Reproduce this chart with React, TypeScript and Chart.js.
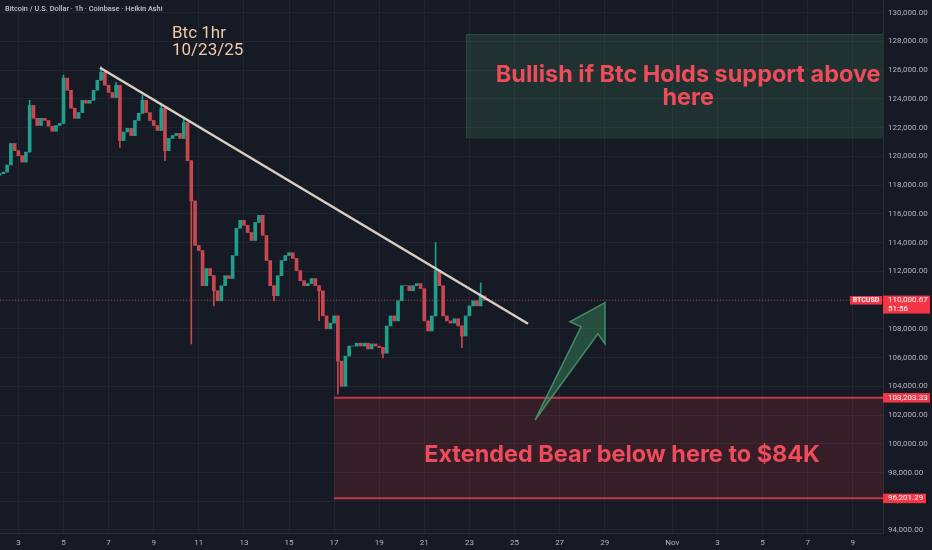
import React, { useEffect, useRef } from "react";
import { Chart, registerables } from "chart.js";
Chart.register(...registerables);

// ---------------- DATA ----------------
// time unit: day of October (Oct d 00:00 = d; Nov 1 = 32)
const START_DAY = 2 + 4 / 24; // Oct 2, 04:00
const STEP_DAYS = 4 / 24; // 4h Heikin Ashi candles
const FIRST_OPEN = 118700;
const closes = [
  118800, 118900, 119400, 120900, 120400, 120050, 119600, 120300, 123550, 122650,
  122150, 122650, 122500, 122100, 121750, 122150, 122300, 125450, 124600, 123350,
  122650, 123050, 123900, 123700, 123900, 124600, 125300, 125850, 124950, 124450,
  124100, 124950, 121100, 121700, 121950, 121450, 122500, 123000, 123900, 123050,
  122500, 122150, 121800, 123350, 120400, 121250, 121450, 121600, 121250, 122350,
  119700, 116900, 113800, 113450, 111000, 112200, 111700, 110650, 109950, 111000,
  111700, 111500, 113100, 115000, 115550, 115200, 114700, 114150, 115400, 115900,
  114500, 112750, 111000, 110300, 111700, 112750, 113100, 113300, 112900, 112050,
  111350, 111000, 111150, 111500, 111000, 110650, 108900, 108000, 108400, 108900,
  105750, 104000, 106100, 106800, 106800, 107000, 106800, 107000, 106600, 106950,
  106800, 106700, 106300, 108200, 108900, 108550, 109950, 111000, 111000, 110650,
  111000, 111150, 110800, 108550, 107850, 108900, 112050, 111000, 108900, 108550,
  108400, 108700, 108200, 107500, 108900, 109600, 109950, 109600, 110300, 110000,
];
const wickHighIdx = [8, 17, 27, 31, 38, 43, 49, 116, 128];
const wickHighVal = [123900, 125650, 126250, 125150, 124260, 123700, 122650, 114000, 111200];
const wickLowIdx = [32, 44, 51, 57, 73, 85, 90, 102, 123];
const wickLowVal = [120630, 119700, 106950, 109600, 109950, 108560, 103450, 105980, 106680];

const xTickVals = [3, 5, 7, 9, 11, 13, 15, 17, 19, 21, 23, 25, 27, 29, 32, 34, 36, 38, 40];
const xTickLabels = ["3", "5", "7", "9", "11", "13", "15", "17", "19", "21", "23", "25", "27", "29", "Nov", "3", "5", "7", "9"];
const yTickVals = [94000, 96000, 98000, 100000, 102000, 104000, 106000, 108000, 110000, 112000,
  114000, 116000, 118000, 120000, 122000, 124000, 126000, 128000, 130000];

const LAST_PRICE = 110000.67;
const COUNTDOWN = "51:56";
const SUPPORT_TOP = 103203.33;
const SUPPORT_BOTTOM = 96201.29;
const trendX = [6.62, 25.6];
const trendY = [126170, 108350];

// annotations (data space)
const GREEN_BOX = { x0: 22.85, y0: 121330, y1: 128510 };
const RED_BOX = { x0: 17.0 };
const arrowX = [25.91, 27.95, 27.46, 29.01, 29.01, 28.70];
const arrowY = [101650, 108140, 108490, 109820, 106955, 107650];
const GREEN_TEXT = { x: 32.7, y1: 125650, y2: 124050, l1: "Bullish if Btc Holds support above", l2: "here" };
const RED_TEXT = { x: 29.77, y: 99210, t: "Extended Bear below here to $84K" };
const NOTE = { x: 9.81, y1: 128510, y2: 127330, l1: "Btc 1hr", l2: "10/23/25" };
const TITLE = "Bitcoin / U.S. Dollar · 1h · Coinbase · Heikin Ashi";

const X_MIN = 2.184;
const X_MAX = 41.34;
const Y_MIN = 93790;
const Y_MAX = 130885;

// ---------------- STYLE ----------------
const BG = "#161a25";
const GRID = "#212532";
const AXIS_TXT = "#b2b5be";
const UP = "#1f9e89";
const DOWN = "#c9474f";
const RED = "#f23645";
const TICK_FONT = { family: "Roboto, 'Liberation Sans', sans-serif", size: 8 };

const fmt = (v: number) => v.toLocaleString("en-US", { minimumFractionDigits: 2, maximumFractionDigits: 2 });

export default function App() {
  const ref = useRef<HTMLCanvasElement | null>(null);

  useEffect(() => {
    if (!ref.current) return;
    const opens = closes.map((c, i) => (i === 0 ? FIRST_OPEN : closes[i - 1]));
    const times = closes.map((_, i) => START_DAY + i * STEP_DAYS);
    const bodies = closes.map((c, i) => ({ x: times[i], y: [opens[i], c] }));
    const bodyColors = closes.map((c, i) => (c >= opens[i] ? UP : DOWN));

    const wickMap = new Map<number, { lo: number; hi: number }>();
    const getW = (i: number) => {
      if (!wickMap.has(i)) wickMap.set(i, { lo: Math.min(opens[i], closes[i]), hi: Math.max(opens[i], closes[i]) });
      return wickMap.get(i)!;
    };
    wickHighIdx.forEach((i, k) => { const w = getW(i); w.hi = Math.max(w.hi, wickHighVal[k]); });
    wickLowIdx.forEach((i, k) => { const w = getW(i); w.lo = Math.min(w.lo, wickLowVal[k]); });
    const wickIdx = Array.from(wickMap.keys()).sort((a, b) => a - b);
    const wicks = wickIdx.map((i) => ({ x: times[i], y: [wickMap.get(i)!.lo, wickMap.get(i)!.hi] }));
    const wickColors = wickIdx.map((i) => bodyColors[i]);

    const overlay = {
      id: "overlay",
      beforeDatasetsDraw(chart: any) {
        const { ctx, chartArea: a, scales } = chart;
        const x = scales.x, y = scales.y;
        ctx.save();
        ctx.beginPath();
        ctx.rect(a.left, a.top, a.right - a.left, a.bottom - a.top);
        ctx.clip();
        // green box
        const gx0 = x.getPixelForValue(GREEN_BOX.x0);
        const gy0 = y.getPixelForValue(GREEN_BOX.y1);
        const gy1 = y.getPixelForValue(GREEN_BOX.y0);
        ctx.fillStyle = "rgba(80,170,110,0.17)";
        ctx.fillRect(gx0, gy0, a.right - gx0, gy1 - gy0);
        ctx.strokeStyle = "rgba(90,170,120,0.25)";
        ctx.lineWidth = 1;
        ctx.strokeRect(gx0 + 0.5, gy0 + 0.5, a.right - gx0, gy1 - gy0);
        // red box
        const rx0 = x.getPixelForValue(RED_BOX.x0);
        const ry0 = y.getPixelForValue(SUPPORT_TOP);
        const ry1 = y.getPixelForValue(SUPPORT_BOTTOM);
        ctx.fillStyle = "rgba(242,54,69,0.15)";
        ctx.fillRect(rx0, ry0, a.right - rx0, ry1 - ry0);
        ctx.strokeStyle = "rgba(222,64,76,0.85)";
        ctx.lineWidth = 2;
        ctx.beginPath();
        ctx.moveTo(rx0, ry0); ctx.lineTo(a.right, ry0);
        ctx.moveTo(rx0, ry1); ctx.lineTo(a.right, ry1);
        ctx.stroke();
        ctx.restore();
      },
      afterDraw(chart: any) {
        const { ctx, chartArea: a, scales } = chart;
        const x = scales.x, y = scales.y;
        ctx.save();
        // arrow
        ctx.beginPath();
        arrowX.forEach((vx, k) => {
          const px = x.getPixelForValue(vx), py = y.getPixelForValue(arrowY[k]);
          if (k === 0) ctx.moveTo(px, py); else ctx.lineTo(px, py);
        });
        ctx.closePath();
        ctx.fillStyle = "rgba(56,142,96,0.45)";
        ctx.fill();
        ctx.strokeStyle = "rgba(70,150,105,0.9)";
        ctx.lineWidth = 1.5;
        ctx.lineJoin = "miter";
        ctx.stroke();

        // big texts
        const fit = (t: string, weight: string, fam: string, target: number) => {
          ctx.font = `${weight} 20px ${fam}`;
          return (20 * target) / ctx.measureText(t).width;
        };
        const BIG = "Inter, 'Noto Sans', sans-serif";
        ctx.fillStyle = "#f04b5a";
        ctx.textAlign = "center";
        ctx.textBaseline = "middle";
        let fs = fit(GREEN_TEXT.l1, "700", BIG, 385);
        ctx.font = `700 ${fs}px ${BIG}`;
        const gtx = x.getPixelForValue(GREEN_TEXT.x);
        ctx.fillText(GREEN_TEXT.l1, gtx, y.getPixelForValue(GREEN_TEXT.y1));
        ctx.fillText(GREEN_TEXT.l2, gtx, y.getPixelForValue(GREEN_TEXT.y2));
        fs = fit(RED_TEXT.t, "700", BIG, 396);
        ctx.font = `700 ${fs}px ${BIG}`;
        ctx.fillText(RED_TEXT.t, x.getPixelForValue(RED_TEXT.x), y.getPixelForValue(RED_TEXT.y));

        // note
        ctx.fillStyle = "#f1c9a7";
        ctx.textAlign = "left";
        ctx.font = `400 17px Roboto, sans-serif`;
        const nx = x.getPixelForValue(NOTE.x);
        ctx.fillText(NOTE.l1, nx, y.getPixelForValue(NOTE.y1));
        ctx.fillText(NOTE.l2, nx, y.getPixelForValue(NOTE.y2));

        // title
        ctx.fillStyle = "#c3c6ce";
        const tfs = fit(TITLE, "500", "Roboto, sans-serif", 158);
        ctx.font = `500 ${tfs}px Roboto, sans-serif`;
        ctx.fillText(TITLE, a.left + 5, a.top + 9);

        // price labels on axis
        const label = (price: number, lines: string[], w: number, h: number, top: number) => {
          const cy = y.getPixelForValue(price);
          ctx.fillStyle = RED;
          ctx.fillRect(a.right, cy + top, w, h);
          ctx.fillStyle = "#ffffff";
          ctx.font = `400 8px Roboto, sans-serif`;
          ctx.textAlign = "left";
          lines.forEach((t, k) => ctx.fillText(t, a.right + 5, cy + k * 9));
        };
        label(LAST_PRICE, [fmt(LAST_PRICE), COUNTDOWN], 47, 18, -4.5);
        label(SUPPORT_TOP, [fmt(SUPPORT_TOP)], 47, 9.5, -4.7);
        label(SUPPORT_BOTTOM, [fmt(SUPPORT_BOTTOM)], 43, 9.5, -4.7);
        // symbol tag
        const cy = y.getPixelForValue(LAST_PRICE);
        ctx.fillStyle = RED;
        ctx.fillRect(a.right - 33, cy - 4, 32, 8.5);
        ctx.fillStyle = "#ffffff";
        ctx.font = `700 7px Roboto, sans-serif`;
        ctx.textAlign = "center";
        ctx.fillText("BTCUSD", a.right - 17, cy + 0.3);
        ctx.restore();
      },
    };

    const chart = new Chart(ref.current, {
      type: "bar",
      data: {
        datasets: [
          {
            type: "line",
            data: trendX.map((v, i) => ({ x: v, y: trendY[i] })),
            borderColor: "#d9d0c2",
            borderWidth: 2.5,
            pointRadius: 0,
            order: 0,
          } as any,
          {
            type: "bar",
            data: bodies as any,
            backgroundColor: bodyColors,
            barThickness: 3,
            grouped: false,
            borderWidth: 0,
            order: 2,
          } as any,
          {
            type: "bar",
            data: wicks as any,
            backgroundColor: wickColors,
            barThickness: 1,
            grouped: false,
            borderWidth: 0,
            order: 3,
          } as any,
          {
            type: "line",
            data: [{ x: X_MIN, y: LAST_PRICE }, { x: X_MAX, y: LAST_PRICE }],
            borderColor: "rgba(242,54,69,0.7)",
            borderWidth: 1,
            borderDash: [1, 2],
            pointRadius: 0,
            order: 4,
          } as any,
        ],
      },
      options: {
        responsive: false,
        animation: false,
        devicePixelRatio: 1,
        events: [],
        layout: { padding: 0 },
        plugins: { legend: { display: false }, tooltip: { enabled: false }, title: { display: false } },
        scales: {
          x: {
            type: "linear",
            min: X_MIN,
            max: X_MAX,
            offset: false,
            grid: { color: GRID, drawTicks: false, offset: false },
            border: { display: true, color: "#2a2e39" },
            ticks: {
              color: AXIS_TXT,
              font: TICK_FONT,
              padding: 5,
              maxRotation: 0,
              autoSkip: false,
              callback: (_v: any, i: number) => xTickLabels[i],
            },
            afterBuildTicks: (s: any) => { s.ticks = xTickVals.map((v) => ({ value: v })); },
            afterFit: (s: any) => { s.height = 17; s.paddingLeft = 0; s.paddingRight = 0; },
          },
          y: {
            type: "linear",
            position: "right",
            min: Y_MIN,
            max: Y_MAX,
            grid: { color: GRID, drawTicks: false },
            border: { display: true, color: "#2a2e39" },
            ticks: {
              color: AXIS_TXT,
              font: TICK_FONT,
              padding: 5,
              callback: (v: any) => fmt(Number(v)),
            },
            afterBuildTicks: (s: any) => { s.ticks = yTickVals.map((v) => ({ value: v })); },
            afterFit: (s: any) => { s.width = 49; s.paddingTop = 0; s.paddingBottom = 0; },
          },
        },
      } as any,
      plugins: [overlay as any],
    });
    return () => chart.destroy();
  }, []);

  return (
    <div style={{ position: "fixed", left: 0, top: 0, width: 932, height: 550, background: BG }}>
      <canvas ref={ref} width={932} height={550} style={{ display: "block" }} />
    </div>
  );
}
